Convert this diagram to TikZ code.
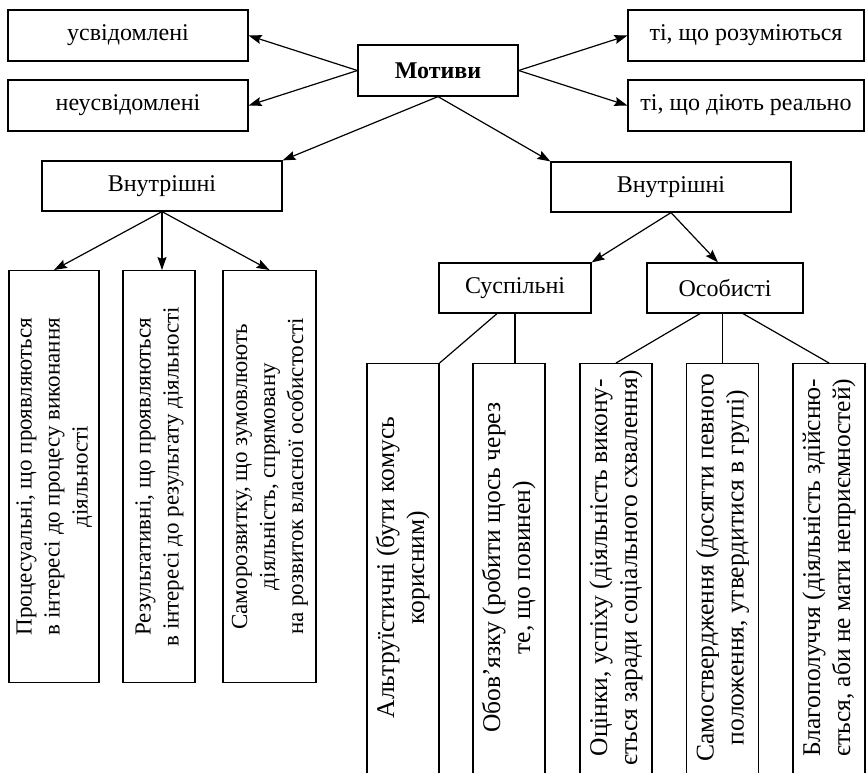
\documentclass[tikz,border=0pt]{standalone}
\usepackage{fontspec}
\setmainfont{Liberation Serif}
\usepackage{graphicx}
\usetikzlibrary{calc, arrows.meta, positioning}

\newcommand{\vtext}[1]{\rotatebox{90}{\begin{tabular}{@{}c@{}}#1\end{tabular}}}

\begin{document}
\begin{tikzpicture}[x=1pt, y=-1pt,
    box/.style={draw, line width=1.2pt, inner sep=0pt, font=\fontsize{24}{28}\selectfont},
    hbox/.style={box, minimum width=240pt, minimum height=51pt},
    lbox/.style={box, anchor=north, minimum width=#1, minimum height=412pt, font=\fontsize{23}{28}\selectfont},
    rbox/.style={box, anchor=north, minimum width=72pt, minimum height=430pt, text depth=22pt, font=\fontsize{25.5}{30}\selectfont},
    arr/.style={-{Stealth[length=13pt, width=9pt, inset=2pt]}, line width=1.2pt},
    lnk/.style={line width=1.2pt}]
    \clip (0,0) rectangle (866,772);
    % top row
    \node[hbox] (usv) at (128,35.5) {усвідомлені};
    \node[hbox] (neusv) at (128,105.5) {неусвідомлені};
    \node[box, minimum width=160pt, minimum height=51pt, font=\fontsize{24}{28}\selectfont\bfseries] (motyvy) at (438,70.5) {Мотиви};
    \node[hbox, minimum width=236pt] (rozum) at (746,35.5) {ті, що розуміються};
    \node[hbox, minimum width=236pt] (real) at (746,105.5) {ті, що діють реально};
    \node[hbox, minimum height=50pt] (vnutrL) at (162,186) {Внутрішні};
    \node[hbox, minimum height=50pt] (vnutrR) at (671,187) {Внутрішні};
    \node[box, minimum width=152pt, minimum height=50pt] (susp) at (515,288) {Суспільні};
    \node[box, minimum width=156pt, minimum height=50pt] (osob) at (725,288) {Особисті};
    % left columns
    \node[lbox=90pt] (proc) at (54,270) {\vtext{Процесуальні, що проявляються\\в інтересі до процесу виконання\\діяльності}};
    \node[lbox=72pt] (rezult) at (159,270) {\vtext{Результативні, що проявляються\\в інтересі до результату діяльності}};
    \node[lbox=93pt] (samoroz) at (269.5,270) {\vtext{Саморозвитку, що зумовлюють\\діяльність, спрямовану\\на розвиток власної особистості}};
    % right columns
    \node[rbox] (altr) at (403,363) {\vtext{Альтруїстичні (бути комусь\\корисним)}};
    \node[rbox] (obov) at (509,363) {\vtext{Обов’язку (робити щось через\\те, що повинен)}};
    \node[rbox] (otsin) at (616,363) {\vtext{Оцінки, успіху (діяльність викону-\\ється заради соціального схвалення)}};
    \node[rbox] (samost) at (722.5,363) {\vtext{Самоствердження (досягти певного\\положення, утвердитися в групі)}};
    \node[rbox] (blag) at (829,363) {\vtext{Благополуччя (діяльність здійсню-\\ється, аби не мати неприємностей)}};
    % arrows
    \draw[arr] (motyvy.west) -- (usv.east);
    \draw[arr] (motyvy.west) -- (neusv.east);
    \draw[arr] (motyvy.east) -- (rozum.west);
    \draw[arr] (motyvy.east) -- (real.west);
    \draw[arr] (motyvy.south) -- (vnutrL.north east);
    \draw[arr] (motyvy.south) -- (vnutrR.north west);
    \draw[arr] (vnutrL.south) -- (proc.north);
    \draw[arr] (vnutrL.south) -- (vnutrL.south |- rezult.north);
    \draw[arr] (vnutrL.south) -- (samoroz.north);
    \draw[arr] (vnutrR.south) -- (susp.north east);
    \draw[arr] (vnutrR.south) -- ($(osob.north)+(-7,0)$);
    % plain links
    \draw[lnk] ($(susp.south)+(-18,0)$) -- (altr.north east);
    \draw[lnk] (susp.south) -- (susp.south |- obov.north);
    \draw[lnk] ($(osob.south)+(-25,0)$) -- (otsin.north);
    \draw[lnk] (osob.south -| samost.north) -- (samost.north);
    \draw[lnk] ($(osob.south)+(18,0)$) -- (blag.north);
\end{tikzpicture}
\end{document}
